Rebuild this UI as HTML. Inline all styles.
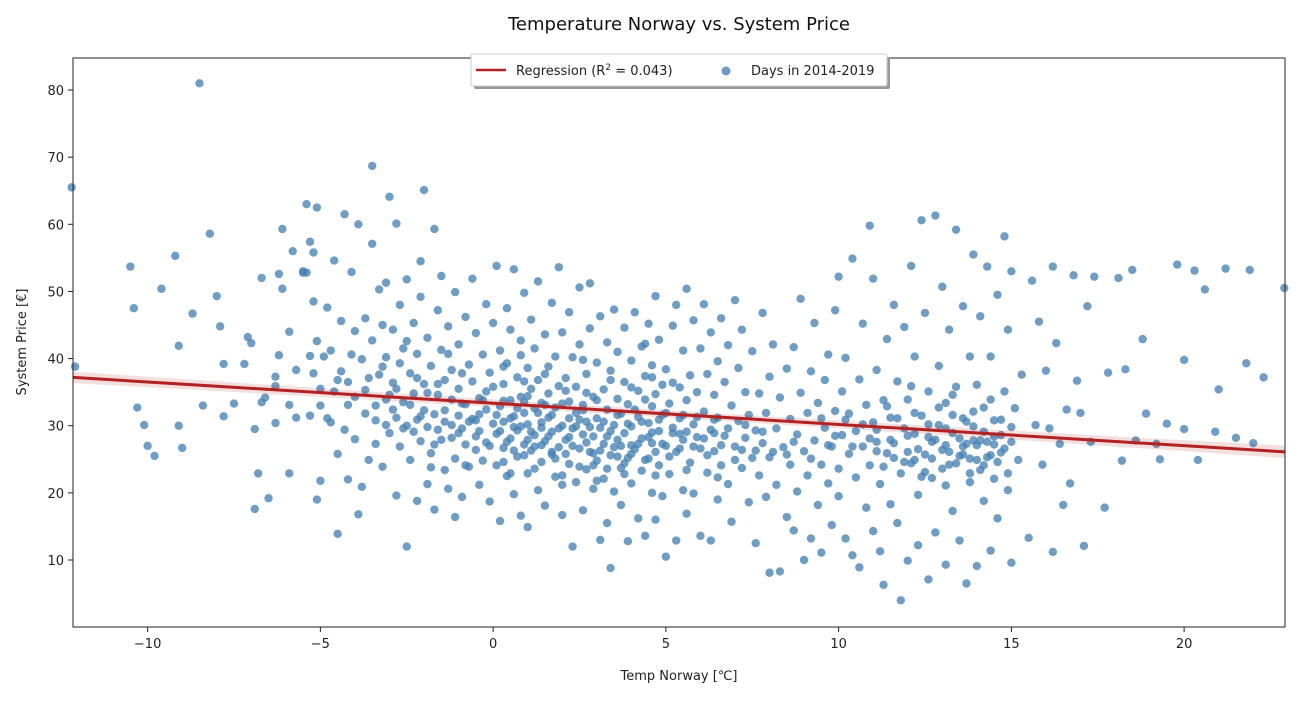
<!DOCTYPE html>
<html><head><meta charset="utf-8">
<style>
html,body{margin:0;padding:0;background:#fff;}
body{width:1300px;height:700px;overflow:hidden;font-family:"DejaVu Sans","Liberation Sans",sans-serif;}
</style></head>
<body>
<svg id="chart" width="1300" height="700" xmlns="http://www.w3.org/2000/svg" font-family="DejaVu Sans, Liberation Sans, sans-serif">
<rect width="1300" height="700" fill="#fff"/>
<text x="679" y="30" text-anchor="middle" font-size="18" fill="#111">Temperature Norway vs. System Price</text>
<g id="plot"></g>
<rect x="73" y="58" width="1212" height="569" fill="none" stroke="#222" stroke-width="1"/>
<g id="xticks"></g><g id="yticks"></g>
<text x="679" y="680" text-anchor="middle" font-size="13" fill="#222">Temp Norway [℃]</text>
<text transform="translate(26,342) rotate(-90)" text-anchor="middle" font-size="13" fill="#222">System Price [€]</text>
<g>
<rect x="474" y="57" width="416" height="32" fill="#999" rx="2"/>
<rect x="471" y="54" width="416" height="32" fill="#fff" stroke="#ccc" rx="2"/>
<line x1="476" y1="70" x2="506" y2="70" stroke="#b22222" stroke-width="2.5"/>
<text x="516" y="75" font-size="13" fill="#222">Regression (R<tspan dy="-5" font-size="9">2</tspan><tspan dy="5"> = 0.043)</tspan></text>
<circle cx="726" cy="71" r="4.5" fill="#4682b4" fill-opacity="0.8"/>
<text x="751" y="75" font-size="13" fill="#222">Days in 2014-2019</text>
</g>
</svg>
<script>
const xTicks=[-10,-5,0,5,10,15,20];
const yTicks=[10,20,30,40,50,60,70,80];
const regStart=[-12.16,37.2];
const regEnd=[22.92,26.1];
const points=[
[-12.2,65.5],[-12.1,38.8],[-10.5,53.7],[-10.4,47.5],[-10.3,32.7],[-10.1,30.1],[-10,27],[-9.8,25.5],[-9.6,50.4],[-9.2,55.3],[-9.1,41.9],[-9.1,30],[-9,26.7],[-8.7,46.7],[-8.5,81],[-8.4,33],[-8.2,58.6],[-8,49.3],[-7.9,44.8],[-7.8,39.2],[-7.8,31.4],[-7.5,33.3],[-7.2,39.2],[-7.1,43.2],[-7,42.3],[-6.9,29.5],[-6.9,17.6],[-6.8,22.9],[-6.7,52],[-6.7,33.5],[-6.6,34.2],[-6.5,19.2],[-6.3,30.4],[-6.3,35.9],[-6.3,37.3],[-6.2,40.5],[-6.2,52.6],[-6.1,50.4],[-6.1,59.3],[-5.9,33.1],[-5.8,56],[-5.7,31.2],[-5.7,38.3],[-5.5,52.8],[-5.4,52.8],[-5.3,40.4],[-5.2,55.8],[-5.1,19],[-5,33],[-5.9,22.9],[-5.9,44],[-5.5,53],[-5.4,63],[-5.3,57.4],[-5.3,31.5],[-5.2,37.8],[-5.2,48.5],[-5.1,62.5],[-5.1,42.6],[-5.0,35.5],[-5.0,21.8],
[-4.9,40.3],[-4.8,31.1],[-4.8,47.6],[-4.7,41.2],[-4.7,30.5],[-4.6,35.1],[-4.6,54.6],[-4.5,13.9],[-4.5,25.8],[-4.4,38.1],[-4.4,45.6],[-4.3,61.5],[-4.3,29.4],[-4.2,22],[-4.2,36.5],[-4.1,40.6],[-4.1,52.9],[-4,44.1],[-4,28],[-4,34.3],[-3.9,16.8],[-3.9,60],[-3.8,39.9],[-3.8,20.9],[-3.7,46],[-3.7,31.8],[-3.6,24.9],[-3.6,37.1],
[-3.5,68.7],[-3.5,57.1],[-3.5,42.7],[-3.4,33],[-3.4,27.3],[-3.3,50.3],[-3.3,37.6],[-3.2,45],[-3.2,23.9],[-3.1,30.1],[-3.1,40.2],[-3.1,51.3],[-3,64.1],[-3,34.6],[-3,28.9],[-2.9,36.4],[-2.9,44.3],[-2.8,19.6],[-2.8,60.1],[-2.8,31.2],[-2.7,48],[-2.7,39.3],[-2.7,26.9],[-2.6,33.5],[-2.6,41.5],[-2.5,51.8],[-2.5,12],[-2.5,30],[-2.4,37.8],[-2.4,24.9],[-2.3,45.3],[-2.3,29.1],[-2.3,34.8],[-2.2,40.7],[-2.2,18.8],[-2.1,27.7],[-2.1,49.2],[-2.1,54.5],[-2,65.1],[-2,32.3],[-2,36.2],[-1.9,21.3],[-1.9,43.1],
[-1.9,29.8],[-1.8,25.9],[-1.8,38.9],[-1.7,31.7],[-1.7,59.3],[-1.7,17.5],[-1.6,47.2],[-1.6,34.6],[-1.5,27.9],[-1.5,41.3],[-1.5,52.3],[-1.4,23.4],[-1.4,36.8],[-1.4,30.6],[-1.3,44.8],[-1.3,20.6],[-1.2,33.9],[-1.2,28.2],[-1.2,38.3],[-1.1,49.9],[-1.1,25.1],[-1.1,16.4],[-1,31.5],[-1,42.1],[-1,35.5],[-0.9,19.4],[-0.9,29.6],[-0.8,46.2],[-0.8,27.2],[-0.8,33.2],[-0.7,39.1],[-0.7,23.9],[-0.6,51.9],[-0.6,31],[-0.6,36.6],[-0.5,26.4],[-0.5,43.8],[-0.4,21.2],[-0.4,29.2],[-0.4,34.1],[-0.3,40.6],[-0.3,24.8],[-0.2,48.1],[-0.2,32.4],[-0.2,27.5],[-0.1,37.9],[-0.1,18.7],[0,30.3],[0,45.3],[0,35.8],
[0.1,53.8],[0.1,24.1],[0.1,28.8],[0.2,15.8],[0.2,41.2],[0.2,32.9],[0.3,36.2],[0.3,26.7],[0.3,30.6],[0.4,47.5],[0.4,22.5],[0.4,39.3],[0.5,33.8],[0.5,28.1],[0.5,44.3],[0.6,19.8],[0.6,31.4],[0.6,53.3],[0.7,25.4],[0.7,37.2],[0.7,29.3],[0.8,42.7],[0.8,16.6],[0.8,34.3],[0.9,27.2],[0.9,49.8],[0.9,31.9],[1,22.9],[1,38.6],[1,30.2],[1,14.9],[1.1,35.5],[1.1,26.3],[1.1,45.8],[1.2,32.6],[1.2,28.6],[1.2,41.5],[1.3,20.4],[1.3,36.8],[1.3,51.5],[1.4,29.7],[1.4,24.6],[1.4,33.4],[1.5,43.6],[1.5,27.7],[1.5,18.1],[1.6,38.8],[1.6,31.2],[1.6,34.8],[1.7,25.7],[1.7,48.3],[1.7,29.1],[1.8,22.4],[1.8,40.3],[1.8,32.7],[1.9,35.9],[1.9,26.8],[1.9,53.6],[2,30],[2,21.2],[2,43.9],[2,16.7],
[2.1,37.1],[2.1,27.9],[2.2,33.6],[2.2,24.3],[2.2,46.9],[2.3,29.6],[2.3,40.2],[2.3,12],[2.4,31.9],[2.4,21.6],[2.4,35.8],[2.5,26.6],[2.5,50.6],[2.5,42.1],[2.6,28.7],[2.6,17.4],[2.6,33.1],[2.7,37.7],[2.7,23.5],[2.7,30.6],[2.8,44.5],[2.8,26.1],[2.8,51.2],[2.9,34.3],[2.9,20.6],[2.9,28.4],[3,39.4],[3,31.1],[3,24.8],[3.1,13],[3.1,46.3],[3.1,29.7],[3.2,35.4],[3.2,22.1],[3.2,27.3],[3.3,42.4],[3.3,32.4],[3.3,15.5],[3.4,25.6],[3.4,38.2],[3.4,8.8],[3.5,30.1],[3.5,47.3],[3.5,20.2],[3.6,34],[3.6,27.9],[3.6,41],[3.7,23.7],[3.7,31.8],[3.7,18.2],[3.8,36.5],[3.8,28.9],[3.8,44.6],[3.9,25.2],[3.9,12.8],[3.9,33.2],[4,39.7],[4,21.4],[4,29.9],
[4.1,46.9],[4.1,26.5],[4.2,35.2],[4.2,16.2],[4.2,31.3],[4.3,23.3],[4.3,41.8],[4.3,28.1],[4.4,37.4],[4.4,13.6],[4.4,33.9],[4.5,25.1],[4.5,45.2],[4.5,30.4],[4.6,20],[4.6,39],[4.6,27.4],[4.7,49.3],[4.7,34.7],[4.7,16],[4.8,29.2],[4.8,24.1],[4.8,42.8],[4.9,36.1],[4.9,31.6],[4.9,19.5],[5,27],[5,10.5],[5,38.4],[5.1,33.3],[5.1,22.8],[5.2,44.9],[5.2,29.7],[5.3,26.1],[5.3,48],[5.3,12.9],[5.4,35.7],[5.4,31.1],[5.5,20.4],[5.5,41.2],[5.5,27.9],[5.6,50.4],[5.6,33.8],[5.6,16.9],[5.7,24.5],[5.7,37.5],[5.8,30.2],[5.8,45.7],[5.8,19.9],[5.9,28.3],[5.9,35],[6,13.6],[6,41.5],[6,26.6],
[6.1,32.1],[6.1,48.1],[6.2,23],[6.2,37.7],[6.3,29.4],[6.3,12.9],[6.3,43.9],[6.4,34.6],[6.4,26.2],[6.5,19],[6.5,39.6],[6.5,31.2],[6.6,46],[6.6,24.1],[6.7,28.5],[6.7,36.5],[6.8,21.3],[6.8,42],[6.9,33],[6.9,15.7],[7,26.9],[7,48.7],[7.1,30.7],[7.1,38.6],[7.2,23.7],[7.2,44.3],[7.3,28.2],[7.3,35],[7.4,18.6],[7.4,31.6],[7.5,25.2],[7.5,41.1],[7.6,12.5],[7.6,29.3],[7.7,34.8],[7.7,22.6],[7.8,46.8],[7.8,27.4],[7.9,31.9],[7.9,19.4],[8,8.1],[8,37.3],[8,25.3],
[8.1,42.1],[8.2,29.6],[8.2,21.2],[8.3,34.2],[8.3,8.3],[8.4,26.8],[8.5,38.5],[8.5,16.4],[8.6,31],[8.6,24.2],[8.7,41.7],[8.7,14.4],[8.8,28.7],[8.8,20.2],[8.9,34.9],[8.9,48.9],[9,26.2],[9,10],[9.1,31.9],[9.1,22.6],[9.2,13.2],[9.2,38.1],[9.3,27.8],[9.3,45.3],[9.4,18.2],[9.4,33.4],[9.5,24.2],[9.5,11.1],[9.6,29.7],[9.6,36.8],[9.7,21.4],[9.7,40.6],[9.8,26.9],[9.8,15.2],[9.9,32.2],[9.9,47.2],[10,23.6],[10,52.2],[10,19.5],
[10.1,28.6],[10.1,35.1],[10.2,40.1],[10.2,13.2],[10.3,25.8],[10.3,31.8],[10.4,10.7],[10.4,54.9],[10.5,22.3],[10.5,29.2],[10.6,36.9],[10.6,8.9],[10.7,26.9],[10.7,45.2],[10.8,33.1],[10.8,17.8],[10.9,59.8],[10.9,24.1],[11,30.5],[11,14.3],[11,51.9],[11.1,38.3],[11.1,27.6],[11.2,11.3],[11.2,21.3],[11.3,33.8],[11.3,6.3],[11.4,42.9],[11.4,25.9],[11.5,18.3],[11.5,31.2],[11.6,27.4],[11.6,48],[11.7,15.5],[11.7,36.6],[11.8,22.9],[11.8,4],[11.9,29.6],[11.9,44.7],[12,26.1],[12,9.9],[12,33.9],
[12.1,53.8],[12.1,24.4],[12.2,40.3],[12.2,28.8],[12.3,12.2],[12.3,19.7],[12.4,60.6],[12.4,31.5],[12.5,25.7],[12.5,46.8],[12.6,7.1],[12.6,35.1],[12.7,27.6],[12.7,22.2],[12.8,61.3],[12.8,14.1],[12.9,38.9],[12.9,30.1],[13,26.4],[13,50.7],[13.1,9.3],[13.1,33.4],[13.2,24.2],[13.2,44.3],[13.3,28.9],[13.3,17.3],[13.4,59.2],[13.4,35.8],[13.5,25.5],[13.5,12.9],[13.6,31.1],[13.6,47.8],[13.7,6.5],[13.7,27.3],[13.8,40.3],[13.8,21.6],[13.9,29.9],[13.9,55.5],[14,24.9],[14,9.1],[14,36.1],
[14.1,46.3],[14.1,27.8],[14.2,18.8],[14.2,32.7],[14.3,53.7],[14.3,25.3],[14.4,11.4],[14.4,40.3],[14.5,28.4],[14.5,22.1],[14.6,49.5],[14.6,16.2],[14.7,30.9],[14.7,26],[14.8,58.2],[14.8,35.1],[14.9,20.4],[14.9,44.3],[15,27.6],[15,9.6],[15,53],[15.1,32.6],[15.2,24.9],[15.3,37.6],[15.5,13.3],[15.6,51.6],[15.7,30.1],[15.8,45.5],[15.9,24.2],[16,38.2],[16.1,29.6],[16.2,11.2],[16.2,53.7],[16.3,42.3],[16.4,27.3],[16.5,18.2],[16.6,32.4],[16.7,21.4],[16.8,52.4],[16.9,36.7],[17,31.9],[17.1,12.1],[17.2,47.8],[17.3,27.6],[17.4,52.2],[17.7,17.8],[17.8,37.9],[18.1,52],[18.2,24.8],[18.3,38.4],[18.5,53.2],[18.6,27.8],[18.8,42.9],[18.9,31.8],[19.2,27.3],[19.3,25],[19.5,30.3],[19.8,54],[20,29.5],[20,39.8],[20.3,53.1],[20.4,24.9],[20.6,50.3],[20.9,29.1],[21,35.4],[21.2,53.4],[21.5,28.2],[21.8,39.3],[21.9,53.2],[22,27.4],[22.3,37.2],[22.9,50.5],
[1.4,30.5],[1.0,27.9],[0.6,29.8],[2.5,30.9],[3.3,28.4],[0.9,33.5],[1.7,26.1],[2.9,24.1],[-0.5,30.8],[-1.6,29.4],[4.0,27.1],[4.6,29],[5.4,28.8],[3.6,25.4],[2.2,28.3],[13.1,27.1],[13.6,25.7],[14.2,24.1],[12.6,28.3],[11.6,25.2],[14.5,27.2],[13.9,27.8],[12.2,24.9],[-2.2,30.9],[-3.1,33.9],[0.3,24.6],[6.4,28.9],[7.2,26.4],[8.5,25.7],[9.9,28.5],[10.7,30.2],[11.1,26.2],
[-2.9,32.4],[-2.6,29.6],[-2.4,33.1],[-2.1,31.4],[-1.9,34.9],[-1.7,27.2],[-1.4,32.3],[-1.2,30.1],[-1,28.9],[-0.9,33.3],[-0.7,30.6],[-0.5,28.4],[-0.4,31.7],[-0.2,35.1],[-0.1,27],[0.1,31.6],[0.2,29.2],[0.3,33.7],[0.4,27.6],[0.5,31.1],[0.6,26.3],[0.7,32.6],[0.8,29.9],[0.9,25.6],[1,34.4],[1.1,29.1],[1.2,26.9],[1.3,31.9],[1.4,27.1],[1.5,33.1],[1.6,28.4],[1.7,31.6],[1.8,25.1],[1.9,29.6],[2,33.3],[2.1,25.8],[2.2,31.1],[2.3,27],[2.4,29.9],[2.5,23.9],[2.6,32.3],[2.7,27.5],[2.8,29.8],[2.9,25.9],[3,33.8],[3.1,26.3],[3.2,30.6],[3.3,23.6],[3.4,29.2],[3.5,26.8],[3.6,31.6],[3.7,27],[3.8,24.4],[3.9,30.3],[4,25.8],[4.1,32.4],[4.2,27.3],[4.3,30.6],[4.4,24.9],[4.5,28.3],[4.6,32.9],[4.7,26.1],[4.8,30.9],[4.9,27.3],[5,31.9],[5.1,25.4],[5.2,28.9],[5.4,26.6],[5.5,31.6],[5.6,29.1],[5.8,26.9],[5.9,31.3],[6.1,28.1],[6.2,25.6],[6.4,30.9],[6.6,27.1],[6.8,29.6],[7,24.9],[7.3,30.1],[7.6,26.3],
[-2.8,35.5],[-2.2,37.1],[-1.6,36.2],[-0.9,37.8],[-0.3,33.8],[0.3,38.8],[0.9,36.6],[1.5,37.7],[2.1,35.2],[2.7,34.9],[3.4,36.8],[4.0,35.7],[4.6,37.2],[5.2,36.4],[-1.8,23.8],[-0.8,24.1],[0.5,22.9],[1.2,23.6],[2.0,22.6],[3.0,21.8],[3.8,22.8],[4.7,22.6],[5.6,23.4],[6.5,22.3],[-3.4,30.8],[-3.7,35.3],[-4.2,33.1],[-4.5,36.8],[-3.2,38.8],[-2.5,42.6],[-1.3,40.7],[0.8,40.5],[2.6,39.8],[4.4,42.2],
[11.1,29.4],[11.3,23.9],[11.5,27.9],[11.7,31.1],[11.9,24.6],[12.0,28.5],[12.2,31.9],[12.3,26.5],[12.5,23.1],[12.6,30.2],[12.7,25.1],[12.8,27.9],[12.9,32.7],[13.0,23.6],[13.1,29.6],[13.2,26.1],[13.3,31.6],[13.4,24.4],[13.5,28.1],[13.6,26.9],[13.7,30.6],[13.8,25.1],[13.9,32.1],[14.0,27.1],[14.1,23.4],[14.2,29.1],[14.3,27.6],[14.4,25.6],[14.5,30.8],[14.6,24.6],[14.7,28.6],[14.8,26.6],[14.9,22.9],[15.0,29.8],[12.4,22.4],[13.1,21.1],[13.8,22.9],[11.4,32.9],[12.1,35.9],[13.3,34.6],[14.4,33.9],[10.9,28.1],[10.4,26.9],[9.7,27.1],[9.2,25.1],[8.7,27.6],[8.1,26.1],[7.8,29.1],[9.5,31.1],[10.2,30.9]
];
const X0=73,X1=1285,Y0=627,Y1=58,XMIN=-12.16,XMAX=22.92,YMIN=0.02,YMAX=84.77;
function sx(v){return X0+(v-XMIN)/(XMAX-XMIN)*(X1-X0);}
function sy(v){return Y0-(v-YMIN)/(YMAX-YMIN)*(Y0-Y1);}
const NS="http://www.w3.org/2000/svg";
const plotG=document.getElementById('plot');
function mk(t,a,p){const e=document.createElementNS(NS,t);for(const k in a)e.setAttribute(k,a[k]);p.appendChild(e);return e;}
points.forEach(p=>{
 const c=mk('circle',{cx:sx(p[0]),cy:sy(p[1]),r:4.2,fill:'#4682b4','fill-opacity':0.78},plotG);
 
 
});
const slope=(regEnd[1]-regStart[1])/(regEnd[0]-regStart[0]);
function reg(x){return regStart[1]+slope*(x-regStart[0]);}
function hw(x){const d=x-4.5;return 0.55+0.0011*d*d;}
const upperPts=[],lowerPts=[];
for(let i=0;i<=20;i++){const x=XMIN+(XMAX-XMIN)*i/20;upperPts.push(sx(x)+','+sy(reg(x)+hw(x)));lowerPts.unshift(sx(x)+','+sy(reg(x)-hw(x)));}
const band=mk('polygon',{points:upperPts.concat(lowerPts).join(' '),fill:'#b22222','fill-opacity':0.15},plotG);


const regLine=mk('line',{x1:sx(regStart[0]),y1:sy(regStart[1]),x2:sx(regEnd[0]),y2:sy(regEnd[1]),stroke:'#b22222','stroke-width':3},plotG);


const xg=document.getElementById('xticks'),yg=document.getElementById('yticks');
xTicks.forEach(v=>{
 mk('line',{x1:sx(v),x2:sx(v),y1:627,y2:632,stroke:'#222'},xg);
 const t=mk('text',{x:sx(v),y:648,'text-anchor':'middle','font-size':13,fill:'#222'},xg);
 t.textContent=v<0?'\u2212'+(-v):v;
 
 
});
yTicks.forEach(v=>{
 mk('line',{x1:68,x2:73,y1:sy(v),y2:sy(v),stroke:'#222'},yg);
 const t=mk('text',{x:64,y:sy(v)+5,'text-anchor':'end','font-size':13,fill:'#222'},yg);
 t.textContent=v;
 
 
});
</script>
</body></html>
